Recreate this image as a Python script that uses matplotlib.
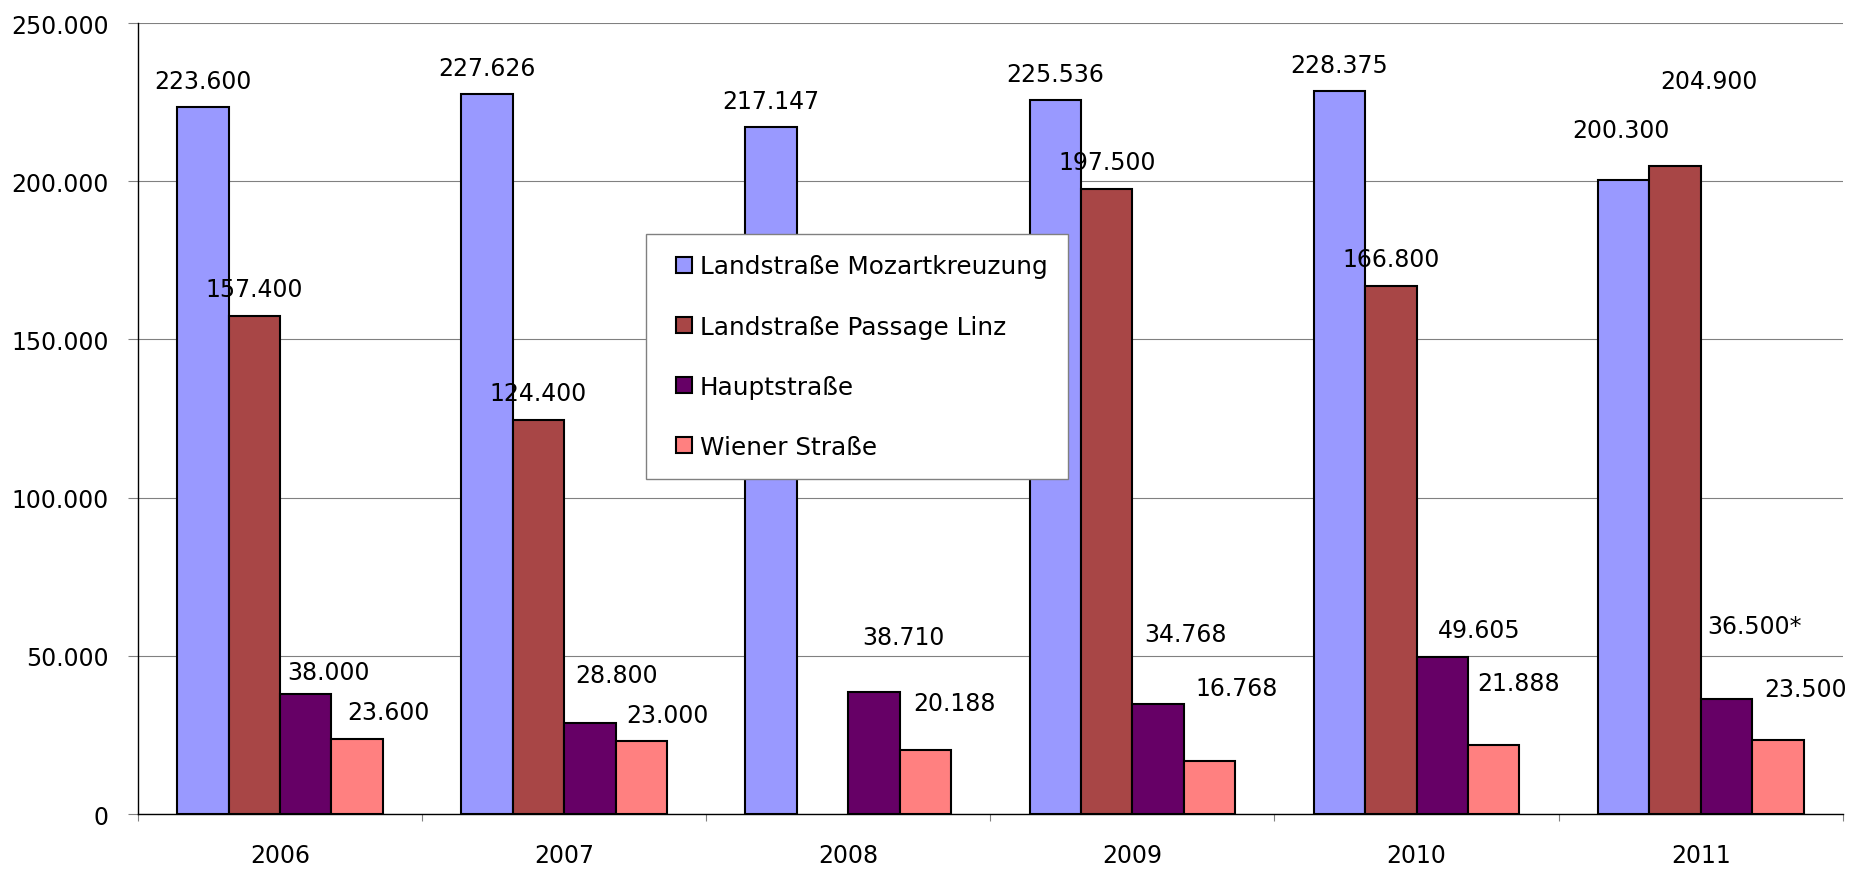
import matplotlib
matplotlib.use("Agg")
import matplotlib.pyplot as plt
from matplotlib.lines import Line2D
import numpy as np
from matplotlib.ticker import FuncFormatter

years = ["2006", "2007", "2008", "2009", "2010", "2011"]
series_names = ["Landstraße Mozartkreuzung", "Landstraße Passage Linz", "Hauptstraße", "Wiener Straße"]
mozart = [223600, 227626, 217147, 225536, 228375, 200300]
passage = [157400, 124400, np.nan, 197500, 166800, 204900]
haupt = [38000, 28800, 38710, 34768, 49605, 36500]
wiener = [23600, 23000, 20188, 16768, 21888, 23500]
label_suffix = [["", "", "", "", "", ""],
                ["", "", "", "", "", ""],
                ["", "", "", "", "", "*"],
                ["", "", "", "", "", ""]]

# label placement (pixel offsets of label centre from bar top centre)
label_dx = [[0, 0, 0, 0, 0, -3],
            [0, 0, 0, 0, 0, 34],
            [23, 27, 29, 27, 37, 28],
            [31, 26, 29, 27, 25, 28]]
label_dy = [[26, 26, 26, 26, 26, 50],
            [27, 27, 0, 27, 27, 85],
            [22, 48, 55, 70, 27, 73],
            [27, 26, 47, 73, 62, 51]]

colors = ["#9999FF", "#A84646", "#660066", "#FF8080"]

fig = plt.figure(figsize=(18.52, 8.70), dpi=100)
ax = fig.add_axes([0.0745, 0.0632, 0.9205, 0.9092])

fs = 17
data = [mozart, passage, haupt, wiener]
x = np.arange(len(years))
w = 0.181
def fmt(v):
    return f"{int(round(v)):,}".replace(",", ".")

for i, (name, vals) in enumerate(zip(series_names, data)):
    xs = x + (i - 1.5) * w
    ax.bar(xs, vals, width=w, color=colors[i], edgecolor="black", linewidth=1.5,
           label=name, zorder=3)
    for j, v in enumerate(vals):
        if np.isnan(v):
            continue
        ax.annotate(fmt(v) + label_suffix[i][j], xy=(xs[j], v),
                    xytext=(label_dx[i][j], label_dy[i][j]), textcoords="offset pixels",
                    ha="center", va="center", fontsize=fs, zorder=4,
                    annotation_clip=False)

ax.set_xlim(-0.5, len(years) - 0.5)
ax.set_ylim(0, 250000)
ax.set_yticks(np.arange(0, 250001, 50000))
ax.yaxis.set_major_formatter(FuncFormatter(lambda v, p: fmt(v)))
ax.yaxis.grid(True, color="#808080", linewidth=0.8, zorder=0)
ax.tick_params(axis="y", length=7.2, width=0.8, color="#808080", labelsize=fs, pad=13.7)

ax.set_xticks(np.arange(-0.5, len(years), 1.0))
ax.set_xticklabels([])
ax.tick_params(axis="x", which="major", length=5, width=0.8, color="#808080")
ax.set_xticks(x, minor=True)
ax.set_xticklabels(years, minor=True)
ax.tick_params(axis="x", which="minor", length=0, labelsize=fs, pad=21)

for s in ["top", "right"]:
    ax.spines[s].set_visible(False)
ax.spines["left"].set_color("black")
ax.spines["bottom"].set_color("black")
ax.spines["left"].set_linewidth(1.0)
ax.spines["bottom"].set_linewidth(1.0)

handles = [Line2D([], [], linestyle="none", marker="s", markersize=11.5,
                  markerfacecolor=c, markeredgecolor="black", markeredgewidth=1.5)
           for c in colors]
leg = ax.legend(handles, series_names, loc="upper left", bbox_to_anchor=(0.298, 0.733),
                fontsize=17.8, frameon=True, fancybox=False, edgecolor="#808080", framealpha=1,
                handlelength=1.46, handletextpad=-0.1,
                labelspacing=1.46, borderpad=0.82, borderaxespad=0)
leg.get_frame().set_linewidth(1.0)
leg.set_zorder(5)

fig.savefig("out.png", dpi=100)
